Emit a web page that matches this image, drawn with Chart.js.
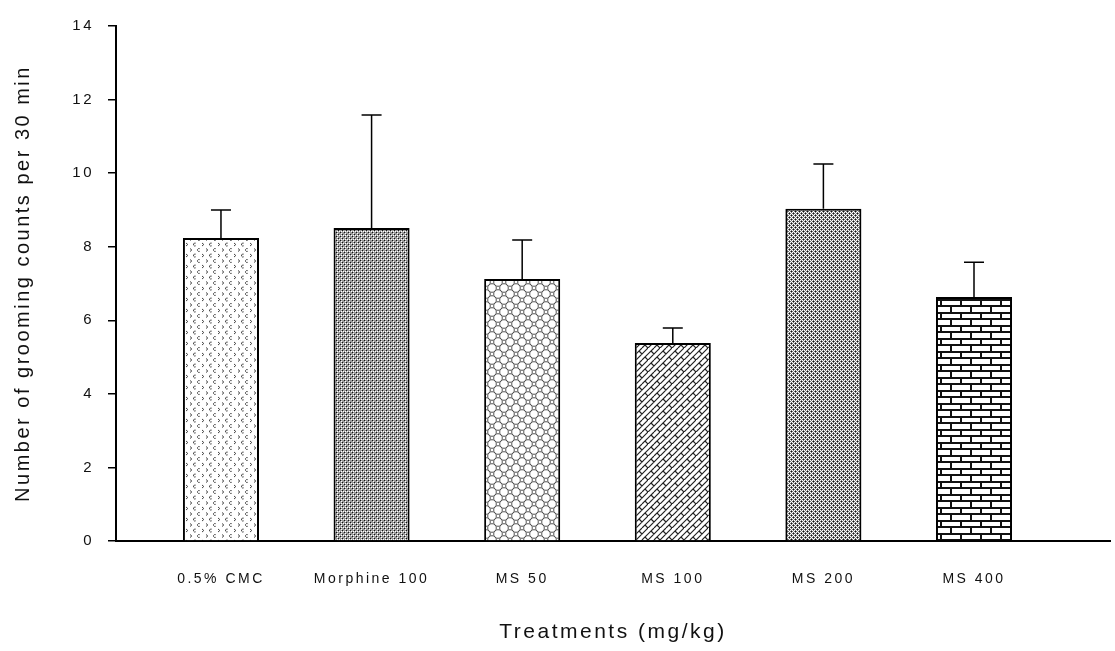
<!DOCTYPE html>
<html>
<head>
<meta charset="utf-8">
<script src="https://cdn.jsdelivr.net/npm/chart.js@4.4.1/dist/chart.umd.min.js"></script>
<style>
  html, body { margin: 0; padding: 0; background: #fff; }
  #wrap { width: 1115px; height: 651px; }
</style>
</head>
<body>
<div id="wrap"><canvas id="grafico"></canvas></div>
<script>
// dados
const categorias = ['0.5% CMC', 'Morphine 100', 'MS 50', 'MS 100', 'MS 200', 'MS 400'];
const medias = [8.24, 8.51, 7.12, 5.38, 9.03, 6.63];
const erros = [0.76, 3.07, 1.06, 0.41, 1.22, 0.95];
const yTicks = [0, 2, 4, 6, 8, 10, 12, 14];

const canvas = document.getElementById('grafico');
const ctx = canvas.getContext('2d');
const fonte = '"Liberation Sans", Arial, sans-serif';

function criaPadrao(w, h, desenha) {
    const c = document.createElement('canvas');
    c.width = w;
    c.height = h;
    const g = c.getContext('2d');
    g.fillStyle = '#fff';
    g.fillRect(0, 0, w, h);
    desenha(g);
    return ctx.createPattern(c, 'repeat');
}

function pixels(g, cor, lista) {
    g.fillStyle = cor;
    lista.forEach(([x, y]) => g.fillRect(x, y, 1, 1));
}

// padrões de hachura, um para cada barra
const padroes = [
    // marquinhas "c" e ">"
    criaPadrao(16, 11, g => {
        g.strokeStyle = '#444';
        g.lineWidth = 1;
        [[3, 2.5], [7, 8]].forEach(([x, y]) => {
            g.beginPath();
            g.arc(x, y, 1.5, 0.35 * Math.PI, 1.65 * Math.PI);
            g.stroke();
        });
        [[10, 2.5], [14, 8]].forEach(([x, y]) => {
            g.beginPath();
            g.moveTo(x, y - 1.5); g.lineTo(x + 1.8, y); g.lineTo(x, y + 1.5);
            g.stroke();
        });
    }),
    // grade fina cinza
    criaPadrao(4, 4, g => {
        g.fillStyle = '#999';
        g.fillRect(0, 0, 4, 4);
        pixels(g, '#fff', [[1, 1], [3, 3], [1, 3]]);
        pixels(g, '#111', [[0, 0], [2, 2]]);
    }),
    // treliça de arcos
    criaPadrao(12, 12, g => {
        g.strokeStyle = '#555';
        g.lineWidth = 1;
        [[0, 0], [12, 0], [0, 12], [12, 12], [6, 6]].forEach(([x, y]) => {
            g.beginPath();
            g.arc(x, y, 4.3, 0, 2 * Math.PI);
            g.stroke();
        });
    }),
    // tijolos diagonais
    criaPadrao(12, 12, g => {
        g.strokeStyle = '#222';
        g.lineWidth = 1.2;
        g.beginPath();
        g.moveTo(0, 12); g.lineTo(12, 0);
        g.moveTo(-6, 12); g.lineTo(6, 0);
        g.moveTo(6, 12); g.lineTo(18, 0);
        g.moveTo(3, 3); g.lineTo(6, 6);
        g.moveTo(9, 9); g.lineTo(12, 12);
        g.stroke();
    }),
    // xadrez diagonal de cruzinhas
    criaPadrao(4, 4, g => {
        pixels(g, '#111', [[1, 1], [3, 3]]);
        pixels(g, '#777', [[1, 0], [0, 1], [2, 1], [1, 2], [3, 2], [2, 3], [0, 3], [3, 0]]);
    }),
    // tijolos horizontais
    criaPadrao(20, 13, g => {
        g.fillStyle = '#111';
        g.fillRect(0, 0, 20, 2);
        g.fillRect(0, 6, 20, 2);
        g.fillRect(0, 0, 2, 7);
        g.fillRect(10, 6, 2, 7);
    })
];

// barras de erro (só para cima, com traço horizontal)
const barrasErro = {
    id: 'barrasErro',
    afterDatasetsDraw(chart) {
        const meta = chart.getDatasetMeta(0);
        const y = chart.scales.y;
        const c = chart.ctx;
        c.save();
        c.strokeStyle = '#000';
        c.lineWidth = 1.5;
        meta.data.forEach((bar, i) => {
            const yBase = y.getPixelForValue(medias[i]);
            const yTop = y.getPixelForValue(medias[i] + erros[i]);
            c.beginPath();
            c.moveTo(bar.x, yBase);
            c.lineTo(bar.x, yTop);
            c.moveTo(bar.x - 10, yTop);
            c.lineTo(bar.x + 10, yTop);
            c.stroke();
        });
        c.restore();
    }
};

// o texto original é bem espaçado
const espacamento = {
    id: 'espacamento',
    beforeUpdate(chart) { chart.ctx.letterSpacing = '2.5px'; },
    beforeDraw(chart) { chart.ctx.letterSpacing = '2.5px'; }
};

new Chart(ctx, {
    type: 'bar',
    data: {
        datasets: [{
            data: medias.map((v, i) => ({ x: i + 1, y: v })),
            backgroundColor: padroes,
            borderColor: '#000',
            borderWidth: 2,
            categoryPercentage: 1,
            barPercentage: 0.505
        }]
    },
    options: {
        responsive: true,
        maintainAspectRatio: false,
        animation: false,
        layout: { padding: { top: 26, right: 5, left: 0, bottom: 0 } },
        plugins: {
            legend: { display: false },
            tooltip: { enabled: false }
        },
        scales: {
            x: {
                type: 'linear',
                offset: false,
                min: 0.303,
                max: 6.903,
                afterBuildTicks: s => { s.ticks = categorias.map((c, i) => ({ value: i + 1 })); },
                afterFit: s => { s.height = 110; },
                grid: { display: false },
                border: { display: true, color: '#000', width: 2 },
                ticks: {
                    autoSkip: false,
                    maxRotation: 0,
                    padding: 22,
                    color: '#111',
                    font: { family: fonte, size: 14 },
                    callback: v => categorias[v - 1] || ''
                },
                title: {
                    display: true,
                    text: 'Treatments (mg/kg)',
                    color: '#111',
                    font: { family: fonte, size: 21 },
                    padding: { top: 0, bottom: 6 }
                }
            },
            y: {
                min: 0,
                max: 14,
                afterBuildTicks: s => { s.ticks = yTicks.map(v => ({ value: v })); },
                afterFit: s => { s.width = 116; },
                grid: {
                    drawOnChartArea: false,
                    drawTicks: true,
                    tickLength: 8,
                    color: '#000',
                    lineWidth: 1.5
                },
                border: { display: true, color: '#000', width: 2 },
                ticks: {
                    padding: 14,
                    color: '#111',
                    font: { family: fonte, size: 15 }
                },
                title: {
                    display: true,
                    text: 'Number of grooming counts per 30 min',
                    color: '#111',
                    font: { family: fonte, size: 20 },
                    padding: { top: 11, bottom: 0 }
                }
            }
        }
    },
    plugins: [barrasErro, espacamento]
});
</script>
</body>
</html>
